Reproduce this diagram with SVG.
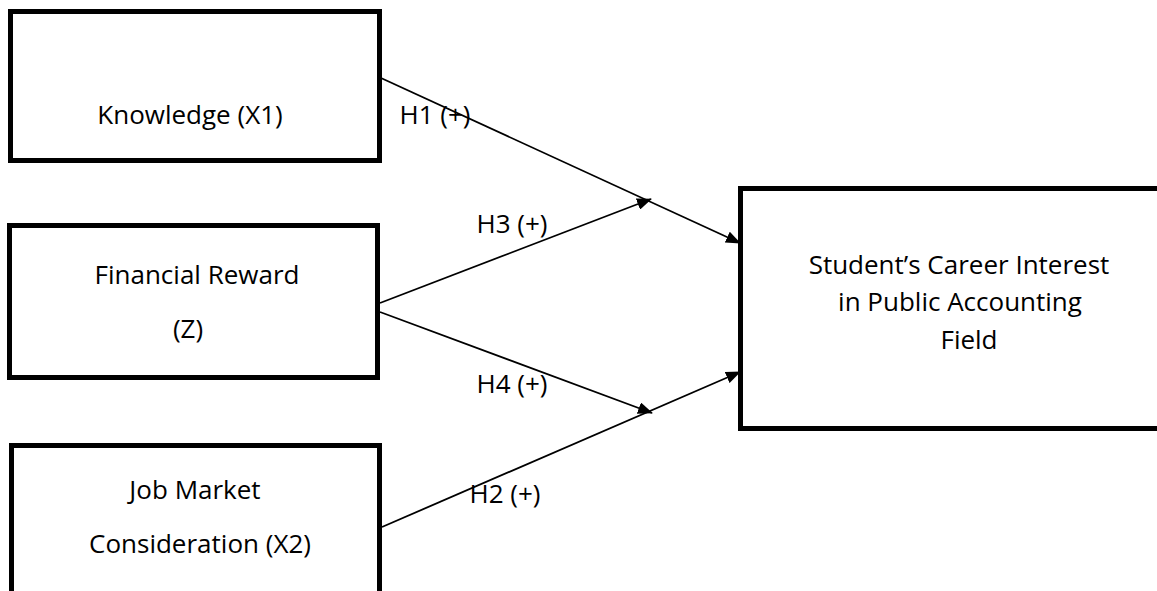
<svg xmlns="http://www.w3.org/2000/svg" width="1157" height="591" viewBox="0 0 1157 591">
<style>
.box{fill:#fff;stroke:#000;stroke-width:5}
.t{font-family:"Open Sans","Liberation Sans",sans-serif;font-size:26px;fill:#000;text-anchor:middle}
.e{stroke:#000;stroke-width:1.8;fill:none}
</style>
<defs>
<marker id="ah" markerWidth="15" markerHeight="12" refX="14" refY="6" orient="auto" markerUnits="userSpaceOnUse">
<path d="M0,0 L15,6 L0,12 Z" fill="#000"/>
</marker>
</defs>
<rect width="1157" height="591" fill="#fff"/>
<g id="connectors">
<line class="e" x1="381" y1="78" x2="740" y2="243" marker-end="url(#ah)"/>
<line class="e" x1="380" y1="303" x2="651" y2="199" marker-end="url(#ah)"/>
<line class="e" x1="380" y1="312" x2="652" y2="413" marker-end="url(#ah)"/>
<line class="e" x1="382" y1="527" x2="740" y2="372" marker-end="url(#ah)"/>
<text class="t" x="435" y="124">H1 (+)</text>
<text class="t" x="512" y="233">H3 (+)</text>
<text class="t" x="512" y="393">H4 (+)</text>
<text class="t" x="505" y="503">H2 (+)</text>
</g>
<g id="knowledge">
<rect class="box" x="10.5" y="11.5" width="369" height="149"/>
<text class="t" x="190" y="124">Knowledge (X1)</text>
</g>
<g id="financial">
<rect class="box" x="9.5" y="225.5" width="368" height="152"/>
<text class="t" x="197" y="284">Financial Reward</text>
<text class="t" x="188" y="338">(Z)</text>
</g>
<g id="jobmarket">
<rect class="box" x="11.5" y="445.5" width="368" height="160"/>
<text class="t" x="195" y="499">Job Market</text>
<text class="t" x="200" y="553">Consideration (X2)</text>
</g>
<g id="interest">
<rect class="box" x="740.5" y="188.5" width="430" height="240"/>
<text class="t" x="959" y="274">Student’s Career Interest</text>
<text class="t" x="960" y="311">in Public Accounting</text>
<text class="t" x="969" y="349">Field</text>
</g>
</svg>
